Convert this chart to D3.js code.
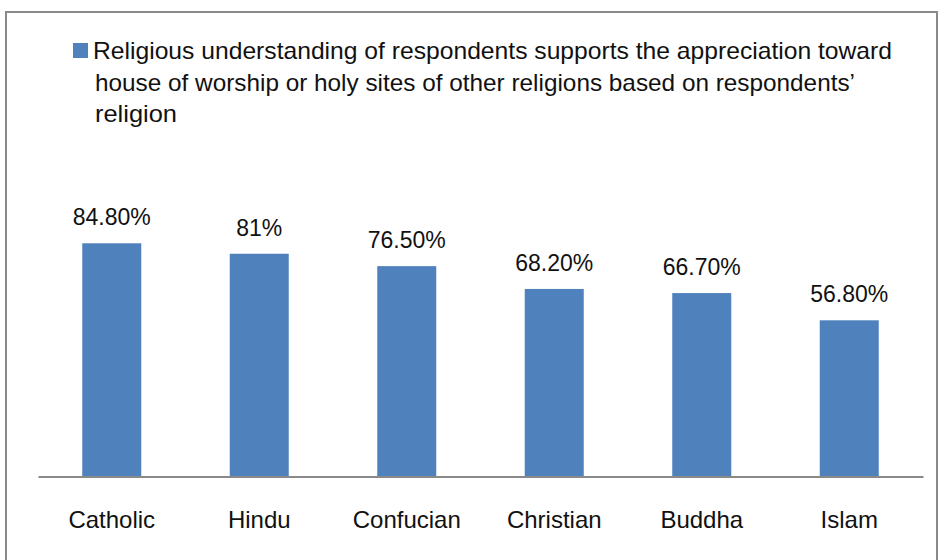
<!DOCTYPE html>
<html>
<head>
<meta charset="utf-8">
<script src="https://cdn.jsdelivr.net/npm/d3@7"></script>
<style>
  html, body { margin: 0; padding: 0; background: #fff; }
  svg { display: block; }
  text { font-family: "Liberation Sans", Arial, sans-serif; fill: #111; }
</style>
</head>
<body>
<svg id="chart" width="940" height="560"></svg>
<script>
// Share of respondents, by religion, whose religious understanding supports
// appreciation toward houses of worship / holy sites of other religions.
const categories = ["Catholic", "Hindu", "Confucian", "Christian", "Buddha", "Islam"];
const values = [84.8, 81, 76.5, 68.2, 66.7, 56.8];
const valueLabels = ["84.80%", "81%", "76.50%", "68.20%", "66.70%", "56.80%"];
const legendLines = [
  "Religious understanding of respondents supports the appreciation toward",
  "house of worship or holy sites of other religions based on respondents’",
  "religion"
];

const svg = d3.select("#chart");
const barColor = "#4F81BD";

// chart frame
svg.append("rect")
  .attr("x", 6).attr("y", 12)
  .attr("width", 931).attr("height", 560)
  .attr("fill", "none")
  .attr("stroke", "#898989")
  .attr("stroke-width", 2);

// legend
svg.append("rect")
  .attr("x", 73).attr("y", 43)
  .attr("width", 15).attr("height", 15)
  .attr("fill", barColor);

const legendX = [93, 95, 95];
const legendWidths = [799, 760, 82];
const legend = svg.append("g");
legendLines.forEach((line, i) => {
  legend.append("text")
    .attr("x", legendX[i])
    .attr("y", 59 + i * 31.5)
    .attr("font-size", 24)
    .attr("textLength", legendWidths[i])
    .attr("lengthAdjust", "spacingAndGlyphs")
    .text(line);
});

// scales
const x = d3.scaleBand()
  .domain(categories)
  .range([38, 923])
  .padding(0);

const y = d3.scaleLinear()
  .domain([0, 100])
  .range([476.5, 201.5]);

const barW = x.step() * 0.4;

// bars
svg.append("g")
  .selectAll("rect")
  .data(categories)
  .join("rect")
  .attr("x", d => x(d) + x.bandwidth() / 2 - barW / 2)
  .attr("y", (d, i) => y(values[i]))
  .attr("width", barW)
  .attr("height", (d, i) => y(0) - y(values[i]))
  .attr("fill", barColor);

// value labels
svg.append("g")
  .selectAll("text")
  .data(categories)
  .join("text")
  .attr("x", d => x(d) + x.bandwidth() / 2)
  .attr("y", (d, i) => y(values[i]) - 18)
  .attr("text-anchor", "middle")
  .attr("font-size", 23)
  .text((d, i) => valueLabels[i]);

// category axis
const axis = d3.axisBottom(x).tickSize(0).tickPadding(0);
const gx = svg.append("g")
  .attr("transform", `translate(0,${y(0)})`)
  .call(axis);
gx.select(".domain")
  .attr("stroke", "#898989")
  .attr("stroke-width", 2);
gx.selectAll(".tick text")
  .attr("dy", 0)
  .attr("y", 51)
  .attr("font-size", 24)
  .attr("font-family", "Liberation Sans, Arial, sans-serif")
  .attr("fill", "#111");
</script>
</body>
</html>
